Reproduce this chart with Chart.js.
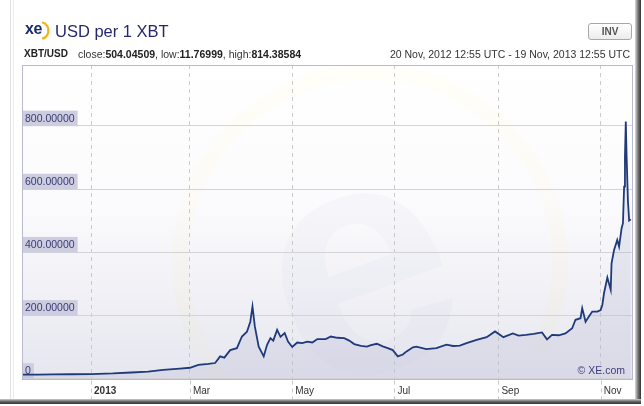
<!DOCTYPE html>
<html>
<head>
<meta charset="utf-8">
<script src="https://cdn.jsdelivr.net/npm/chart.js@4/dist/chart.umd.min.js"></script>
<style>
  html, body { margin:0; padding:0; background:#fff; }
  #wrap { position:relative; width:644px; height:406px; overflow:hidden; font-family:"Liberation Sans", Arial, sans-serif; }
  #c { position:absolute; left:0; top:0; }
  .t { position:absolute; white-space:nowrap; line-height:1; }
  #logo { left:25px; top:21px; font-size:16px; font-weight:bold; color:#1d2a6b; letter-spacing:-0.5px; }
  #title { left:55px; top:22.5px; font-size:16.5px; color:#27286c; }
  #pair { left:24px; top:48.5px; font-size:10px; font-weight:bold; color:#222; }
  #stats { left:78px; top:48.5px; font-size:10.5px; color:#333; }
  #stats b { color:#222; }
  #range { right:14px; top:48.5px; font-size:10.5px; color:#333; }
  #inv { left:588px; top:22.5px; width:42px; height:15px; border:1px solid #a8a8a8; border-radius:3px;
         background:linear-gradient(#ffffff,#ececec); font-size:10px; font-weight:bold; color:#555;
         text-align:center; line-height:15px; }
</style>
</head>
<body>
<div id="wrap">
  <canvas id="c" width="644" height="406"></canvas>
  <div class="t" id="logo">xe</div>
  <div class="t" id="title">USD per 1 XBT</div>
  <div class="t" id="pair">XBT/USD</div>
  <div class="t" id="stats">close:<b>504.04509</b>, low:<b>11.76999</b>, high:<b>814.38584</b></div>
  <div class="t" id="range">20 Nov, 2012 12:55 UTC - 19 Nov, 2013 12:55 UTC</div>
  <div class="t" id="inv">INV</div>
</div>
<script>
// Days since 20 Nov 2012 12:55 UTC
const days = [0, 10, 20, 30, 42, 55, 66, 76, 85, 95, 101, 106, 112, 116, 119, 121.5, 125, 129, 132, 135, 137, 138.3, 139.7, 142, 145, 147, 149, 150.7, 153, 155, 157.5, 159.5, 162, 165, 168, 171, 174, 177, 182, 185, 189, 193, 196, 199, 203, 206.5, 209, 212.5, 216, 219, 222, 225, 228, 230, 234, 236, 242, 248, 254, 258, 262, 266, 272, 278, 283, 288, 293.6, 297, 301.5, 306, 311, 314, 317, 321, 325, 329, 331, 334, 335, 337, 339, 341, 344, 346, 347, 348, 350, 352, 352.5, 354, 355.9, 357, 358.5, 359.3, 360, 360.5, 361, 361.5, 362.3, 363, 364];
const priceUSD = [12, 12.5, 13, 13.5, 14, 16, 19, 22, 27, 31, 34, 43, 46, 49, 70, 66, 90, 96, 133, 148, 180, 228, 165, 101, 70, 107, 128, 120, 154, 132, 144, 117, 100, 114, 112, 117, 114, 125, 125, 133, 129, 128, 120, 109, 103, 101, 106, 110, 102, 96, 90, 70, 76, 85, 99, 101, 93, 96, 107, 103, 104, 112, 122, 131, 149, 131, 143, 136, 138, 141, 146, 124, 138, 137, 143, 159, 186, 191, 223, 180, 196, 212, 212, 217, 233, 270, 320, 281, 365, 407, 439, 418, 476, 492, 608, 702, 814, 700, 560, 500, 504];
const tickDays = [42, 101, 162, 223, 285, 346];
const tickLabels = ["2013", "Mar", "May", "Jul", "Sep", "Nov"];
const yTicks = [0, 200, 400, 600, 800];

const points = days.map((d, i) => ({ x: d, y: priceUSD[i] }));

const decor = {
  id: 'decor',
  beforeDraw(chart) {
    const { ctx, chartArea: a } = chart;
    ctx.save();
    ctx.fillStyle = '#e2e2e2';
    ctx.fillRect(10, 0, 1, 402);
    ctx.fillStyle = '#ececec';
    ctx.fillRect(13, 0, 1, 402);
    const g = ctx.createLinearGradient(0, a.top, 0, a.bottom);
    g.addColorStop(0, '#ffffff');
    g.addColorStop(0.45, '#fbfbfd');
    g.addColorStop(1, '#e6e6ef');
    ctx.fillStyle = g;
    ctx.fillRect(a.left, a.top, a.right - a.left, a.bottom - a.top);
    ctx.beginPath();
    ctx.rect(a.left, a.top, a.right - a.left, a.bottom - a.top);
    ctx.clip();
    ctx.strokeStyle = 'rgba(255,238,170,0.08)';
    ctx.lineWidth = 16;
    ctx.beginPath();
    ctx.arc(370, 262, 190, Math.PI * 0.75, Math.PI * 2.15);
    ctx.stroke();
    ctx.save();
    ctx.translate(370, 300);
    ctx.rotate(-0.35);
    ctx.font = 'bold 330px "Liberation Sans", Arial';
    ctx.textAlign = 'center';
    ctx.textBaseline = 'middle';
    ctx.fillStyle = 'rgba(215,215,232,0.15)';
    ctx.fillText('e', 0, -20);
    ctx.restore();
    ctx.restore();
    ctx.save();
    ctx.strokeStyle = '#f2b31c';
    ctx.lineWidth = 2.2;
    ctx.beginPath();
    ctx.arc(40, 30.5, 8.5, -Math.PI * 0.42, Math.PI * 0.42);
    ctx.stroke();
    ctx.restore();
  },
  afterDraw(chart) {
    const { ctx, chartArea: a } = chart;
    const xs = chart.scales.x;
    ctx.save();
    ctx.strokeStyle = '#c8c8c8';
    ctx.lineWidth = 1;
    ctx.setLineDash([4, 4]);
    tickDays.forEach(d => {
      const px = Math.round(xs.getPixelForValue(d)) + 0.5;
      ctx.beginPath();
      ctx.moveTo(px, a.bottom + 2);
      ctx.lineTo(px, 401);
      ctx.stroke();
    });
    ctx.setLineDash([]);
    ctx.strokeStyle = '#b9b9d2';
    ctx.strokeRect(Math.round(a.left) + 0.5, Math.round(a.top) + 0.5, Math.round(a.right - a.left), Math.round(a.bottom - a.top));
    ctx.font = '10.5px "Liberation Sans", Arial';
    ctx.fillStyle = '#3e3e7a';
    ctx.textAlign = 'right';
    ctx.textBaseline = 'alphabetic';
    ctx.fillText('\u00A9 XE.com', a.right - 7, a.bottom - 5);
    const gr = ctx.createLinearGradient(635, 0, 641, 0);
    gr.addColorStop(0, '#dcdcdc');
    gr.addColorStop(0.5, '#777');
    gr.addColorStop(1, '#333');
    ctx.fillStyle = gr;
    ctx.fillRect(635, 0, 6, 404);
    const gb = ctx.createLinearGradient(0, 399, 0, 404);
    gb.addColorStop(0, '#cfcfcf');
    gb.addColorStop(0.5, '#666');
    gb.addColorStop(1, '#333');
    ctx.fillStyle = gb;
    ctx.fillRect(0, 399, 641, 5);
    ctx.restore();
  }
};

new Chart(document.getElementById('c'), {
  type: 'line',
  data: {
    datasets: [{
      data: points,
      borderColor: '#1e3a7a',
      borderWidth: 1.8,
      pointRadius: 0,
      tension: 0,
      fill: 'origin',
      backgroundColor: 'rgba(175,175,205,0.22)'
    }]
  },
  options: {
    responsive: false,
    animation: false,
    events: [],
    layout: { padding: { left: 22, right: 12, top: 65, bottom: 0 } },
    plugins: { legend: { display: false }, tooltip: { enabled: false } },
    scales: {
      x: {
        type: 'linear',
        min: 0.8,
        max: 364.7,
        afterBuildTicks: s => { s.ticks = tickDays.map(v => ({ value: v })); },
        afterFit: s => { s.height = 27.5; },
        grid: { color: '#cacaca', drawTicks: false, lineWidth: 1 },
        border: { display: false, dash: [4, 4] },
        ticks: {
          autoSkip: false,
          maxRotation: 0,
          align: 'start',
          labelOffset: 3,
          padding: 7,
          color: '#333',
          font: c => ({ family: '"Liberation Sans", Arial', size: 10, weight: (c.tick && c.tick.value === tickDays[0]) ? 'bold' : 'normal' }),
          callback: v => { const i = tickDays.indexOf(v); return i >= 0 ? tickLabels[i] : ''; }
        }
      },
      y: {
        type: 'linear',
        position: 'left',
        min: 0,
        max: 993,
        afterBuildTicks: s => { s.ticks = yTicks.map(v => ({ value: v })); },
        afterFit: s => { s.width = 0; },
        grid: { color: '#d4d4d4', drawTicks: false, lineWidth: 1 },
        border: { display: false },
        ticks: {
          mirror: true,
          padding: 3,
          labelOffset: -7,
          color: '#3a3a74',
          font: { family: '"Liberation Sans", Arial', size: 10.5 },
          showLabelBackdrop: true,
          backdropColor: '#cdcde0',
          backdropPadding: { left: 3, right: 3, top: 2, bottom: 1 },
          callback: v => v === 0 ? '0' : v.toFixed(5)
        }
      }
    }
  },
  plugins: [decor]
});
</script>
</body>
</html>
